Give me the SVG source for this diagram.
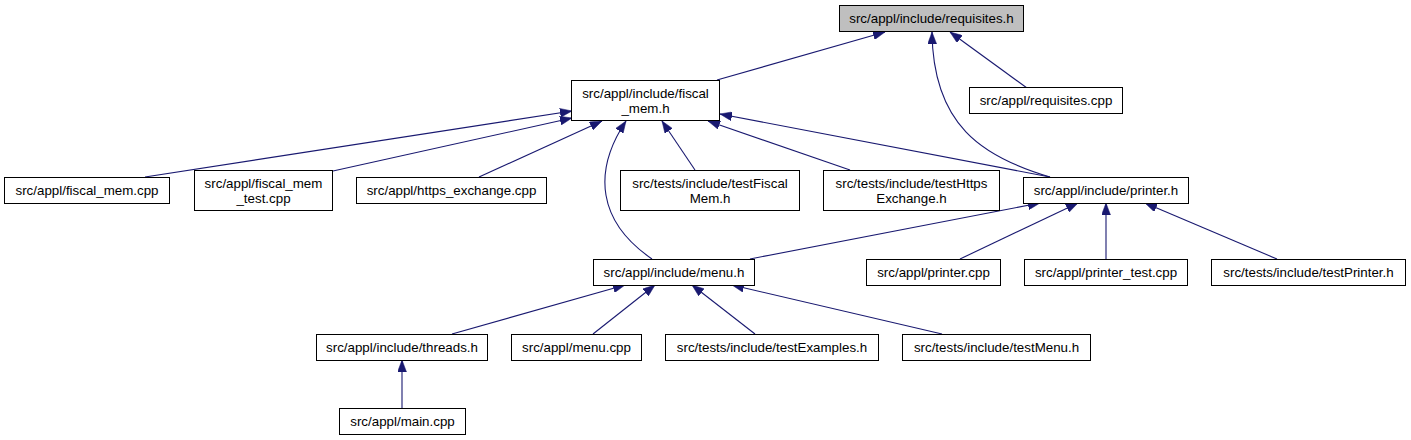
<svg xmlns="http://www.w3.org/2000/svg" width="1411" height="440" viewBox="0 0 1411 440">
<defs>
<style>
.node rect{fill:#ffffff;stroke:#000000;stroke-width:1}
.node.root rect{fill:#bfbfbf}
.node text{font-family:"Liberation Sans",Arial,Helvetica,sans-serif;font-size:13.33px;fill:#000000;text-anchor:middle}
.edge{fill:none;stroke:#191970;stroke-width:1.1;marker-end:url(#arr)}
</style>
<marker id="arr" viewBox="0 0 12 9" refX="12" refY="4.5" markerWidth="12" markerHeight="9" markerUnits="userSpaceOnUse" orient="auto">
<path d="M0,0 L12,4.5 L0,9 z" fill="#191970" stroke="#191970" stroke-width="0.5"/>
</marker>
</defs>
<rect x="0" y="0" width="1411" height="440" fill="#ffffff"/>
<g id="connectors">
<path class="edge" d="M717,80 L885,32"/>
<path class="edge" d="M1050,177 C982,157 933,125 932,32"/>
<path class="edge" d="M1027,88 L950,32"/>
<path class="edge" d="M145,177 L572,111"/>
<path class="edge" d="M333,171 L572,118"/>
<path class="edge" d="M479,177 L602,121"/>
<path class="edge" d="M652,259 C598,222 592,172 626,121"/>
<path class="edge" d="M695,170 L662,121"/>
<path class="edge" d="M850,170 L708,121"/>
<path class="edge" d="M1050,177 L720,114"/>
<path class="edge" d="M750,259 L1040,203"/>
<path class="edge" d="M960,259 L1078,203"/>
<path class="edge" d="M1106,259 L1106,203"/>
<path class="edge" d="M1277,259 L1145,203"/>
<path class="edge" d="M452,334 L625,285"/>
<path class="edge" d="M593,334 L655,285"/>
<path class="edge" d="M755,334 L692,285"/>
<path class="edge" d="M942,334 L732,285"/>
<path class="edge" d="M402,408 L402,360"/>
</g>
<g id="requisites_h" class="node root"><rect x="839.5" y="5.5" width="184" height="26"/><text x="931.5" y="22.5">src/appl/include/requisites.h</text></g>
<g id="fiscal_mem_h" class="node"><rect x="571.5" y="80.5" width="148" height="40"/><text x="645.5" y="98">src/appl/include/fiscal</text><text x="645.5" y="112.5">_mem.h</text></g>
<g id="requisites_cpp" class="node"><rect x="969.5" y="87.5" width="153" height="26"/><text x="1046" y="104.5">src/appl/requisites.cpp</text></g>
<g id="fiscal_mem_cpp" class="node"><rect x="4.5" y="177.5" width="165" height="26"/><text x="87" y="194.5">src/appl/fiscal_mem.cpp</text></g>
<g id="fiscal_mem_test_cpp" class="node"><rect x="194.5" y="170.5" width="138" height="40"/><text x="263.5" y="188">src/appl/fiscal_mem</text><text x="263.5" y="202.5">_test.cpp</text></g>
<g id="https_exchange_cpp" class="node"><rect x="356.5" y="177.5" width="190" height="26"/><text x="451.5" y="194.5">src/appl/https_exchange.cpp</text></g>
<g id="testFiscalMem_h" class="node"><rect x="620.5" y="170.5" width="179" height="40"/><text x="710" y="188">src/tests/include/testFiscal</text><text x="710" y="202.5">Mem.h</text></g>
<g id="testHttpsExchange_h" class="node"><rect x="823.5" y="170.5" width="176" height="40"/><text x="911.5" y="188">src/tests/include/testHttps</text><text x="911.5" y="202.5">Exchange.h</text></g>
<g id="printer_h" class="node"><rect x="1023.5" y="177.5" width="165" height="26"/><text x="1106" y="194.5">src/appl/include/printer.h</text></g>
<g id="menu_h" class="node"><rect x="593.5" y="259.5" width="161" height="26"/><text x="674" y="276.5">src/appl/include/menu.h</text></g>
<g id="printer_cpp" class="node"><rect x="866.5" y="259.5" width="134" height="26"/><text x="933.5" y="276.5">src/appl/printer.cpp</text></g>
<g id="printer_test_cpp" class="node"><rect x="1024.5" y="259.5" width="163" height="26"/><text x="1106" y="276.5">src/appl/printer_test.cpp</text></g>
<g id="testPrinter_h" class="node"><rect x="1211.5" y="259.5" width="194" height="26"/><text x="1308.5" y="276.5">src/tests/include/testPrinter.h</text></g>
<g id="threads_h" class="node"><rect x="316.5" y="334.5" width="171" height="26"/><text x="402" y="351.5">src/appl/include/threads.h</text></g>
<g id="menu_cpp" class="node"><rect x="511.5" y="334.5" width="130" height="26"/><text x="576.5" y="351.5">src/appl/menu.cpp</text></g>
<g id="testExamples_h" class="node"><rect x="665.5" y="334.5" width="213" height="26"/><text x="772" y="351.5">src/tests/include/testExamples.h</text></g>
<g id="testMenu_h" class="node"><rect x="902.5" y="334.5" width="188" height="26"/><text x="996.5" y="351.5">src/tests/include/testMenu.h</text></g>
<g id="main_cpp" class="node"><rect x="339.5" y="408.5" width="126" height="26"/><text x="402.5" y="425.5">src/appl/main.cpp</text></g>
</svg>
